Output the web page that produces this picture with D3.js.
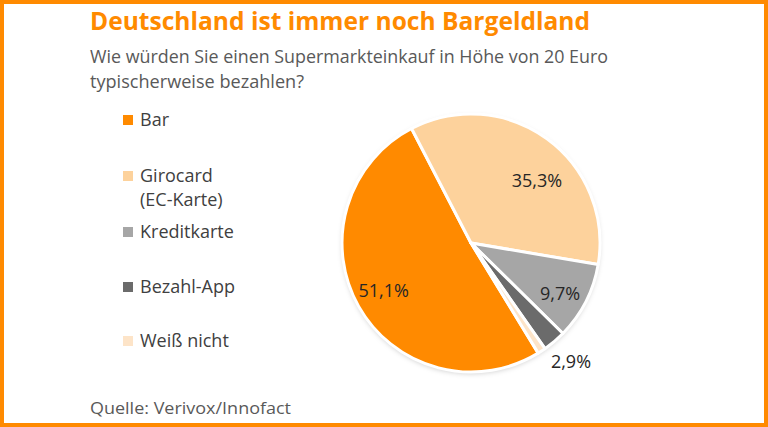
<!DOCTYPE html>
<html>
<head>
<meta charset="utf-8">
<script src="https://cdn.jsdelivr.net/npm/d3@7"></script>
<style>
  html, body { margin: 0; padding: 0; background: #fff; }
  svg { display: block; }
</style>
</head>
<body>
<svg id="chart" width="768" height="427"></svg>
<script>
const categories = ["Bar", "Girocard (EC-Karte)", "Kreditkarte", "Bezahl-App", "Weiß nicht"];
const legendLines = [["Bar"], ["Girocard", "(EC-Karte)"], ["Kreditkarte"], ["Bezahl-App"], ["Weiß nicht"]];
const values = [51.1, 35.3, 9.7, 2.9, 1.0];
const valueLabels = ["51,1%", "35,3%", "9,7%", "2,9%", ""];
const colors = ["#FF8A00", "#FDD29C", "#A6A6A6", "#6B6B6B", "#FDE4C8"];

const svg = d3.select("#chart");
const W = 768, H = 427;
const font = "'Open Sans', 'Noto Sans', sans-serif";

// shadow filter
const defs = svg.append("defs");
const f = defs.append("filter").attr("id", "sh").attr("x", "-20%").attr("y", "-20%").attr("width", "140%").attr("height", "140%");
f.append("feDropShadow").attr("dx", 0).attr("dy", 2).attr("stdDeviation", 2.5).attr("flood-color", "#000").attr("flood-opacity", 0.18);

// border
svg.append("rect").attr("x", 2).attr("y", 2).attr("width", W - 4).attr("height", H - 4)
  .attr("fill", "#fff").attr("stroke", "#FF8A00").attr("stroke-width", 4);

// title
svg.append("text").attr("x", 90).attr("y", 30)
  .attr("font-family", font).attr("font-weight", 700).attr("font-size", 25)
  .attr("fill", "#FF8A00")
  .attr("textLength", 500).attr("lengthAdjust", "spacingAndGlyphs")
  .text("Deutschland ist immer noch Bargeldland");

svg.append("text").attr("x", 90).attr("y", 63)
  .attr("font-family", font).attr("font-size", 18).attr("fill", "#595959")
  .attr("textLength", 518).attr("lengthAdjust", "spacingAndGlyphs")
  .text("Wie würden Sie einen Supermarkteinkauf in Höhe von 20 Euro");
svg.append("text").attr("x", 90).attr("y", 88)
  .attr("font-family", font).attr("font-size", 18).attr("fill", "#595959")
  .attr("textLength", 214).attr("lengthAdjust", "spacingAndGlyphs")
  .text("typischerweise bezahlen?");

// source
svg.append("text").attr("x", 90).attr("y", 414)
  .attr("font-family", font).attr("font-size", 17).attr("fill", "#595959")
  .attr("textLength", 201).attr("lengthAdjust", "spacingAndGlyphs")
  .text("Quelle: Verivox/Innofact");

// legend
const legendY = [120, 176, 232, 287, 341];
const lg = svg.append("g");
categories.forEach((c, i) => {
  lg.append("rect").attr("x", 123).attr("y", legendY[i] - 5).attr("width", 10).attr("height", 10)
    .attr("fill", colors[i]);
  legendLines[i].forEach((ln, j) => {
    lg.append("text").attr("x", 140).attr("y", legendY[i] + 6 + j * 24)
      .attr("font-family", font).attr("font-size", 18).attr("fill", "#404040")
      .text(ln);
  });
});

// pie
const cx = 471, cy = 243, R = 129;
const start = 148.6 * Math.PI / 180;
const pie = d3.pie().sort(null).value(d => d).startAngle(start).endAngle(start + 2 * Math.PI);
const arcs = pie(values);
const arc = d3.arc().innerRadius(0).outerRadius(R);
const g = svg.append("g").attr("transform", `translate(${cx},${cy})`);
g.append("circle").attr("r", R).attr("fill", "#fff").attr("filter", "url(#sh)");
g.selectAll("path").data(arcs).enter().append("path")
  .attr("d", arc).attr("fill", (d, i) => colors[i])
  .attr("stroke", "#fff").attr("stroke-width", 3).attr("stroke-linejoin", "round");

// labels
const labelR = [0.77, 0.71, 0.79, 1.2, 0];
const labelShift = [1, 10, 2, 0, 0];
arcs.forEach((d, i) => {
  if (!valueLabels[i]) return;
  const a = (d.startAngle + d.endAngle) / 2 + labelShift[i] * Math.PI / 180;
  let r = R * labelR[i];
  let x = Math.sin(a) * r, y = -Math.cos(a) * r;
  g.append("text").attr("x", x).attr("y", y)
    .attr("text-anchor", "middle").attr("dominant-baseline", "central")
    .attr("font-family", font).attr("font-size", 18).attr("fill", "#262626")
    .text(valueLabels[i]);
});
</script>
</body>
</html>
